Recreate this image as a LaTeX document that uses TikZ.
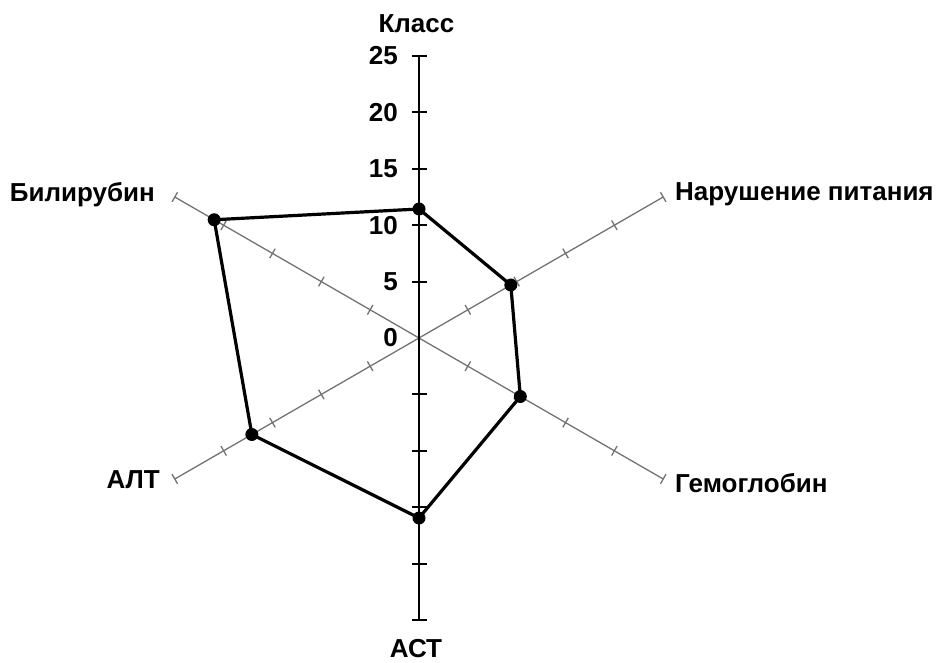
\documentclass[tikz,border=0pt]{standalone}
\usepackage{fontspec}
\setmainfont{Liberation Sans}
\begin{document}
\begin{tikzpicture}[x=1pt,y=1pt,
  lbl/.style={font=\bfseries\fontsize{26}{26}\selectfont, inner sep=0pt},
  ax/.style={draw=black!55, line width=1.3pt},
  vax/.style={draw=black, line width=1.9pt},
  data/.style={draw=black, line width=3.2pt, line join=round},
  dot/.style={circle, fill=black, inner sep=0pt, minimum size=13pt}]
\useasboundingbox (0,0) rectangle (941,662);
\coordinate (O) at (419,324);
\def\L{282}
% diagonal axes
\foreach \a/\n in {30/n,-30/g,210/alt,150/b}{
  \begin{scope}[shift={(O)},rotate=\a]
    \draw[ax] (0,0) -- (\L,0) coordinate (e\n);
    \foreach \k in {1,...,5}
      \draw[ax] ({\k*\L/5},-5.5) -- ({\k*\L/5},5.5);
  \end{scope}
}
% vertical axis
\begin{scope}[shift={(O)}]
  \draw[vax] (0,-\L) coordinate (east) -- (0,\L) coordinate (ekl);
  \foreach \k in {-5,...,-1,1,2,...,5}
    \draw[vax] (-7,{\k*\L/5}) -- (8,{\k*\L/5});
  \foreach \k in {0,...,5}
    \node[lbl,anchor=east] (t\k) at (-21,{\k*\L/5}) {\pgfmathparse{int(5*\k)}\pgfmathresult};
\end{scope}
% data
\begin{scope}[shift={(O)}]
  \coordinate (p1) at (90:129);
  \coordinate (p2) at (30:106);
  \coordinate (p3) at (-30:117);
  \coordinate (p4) at (-90:180);
  \coordinate (p5) at (210:193);
  \coordinate (p6) at (150:236.5);
\end{scope}
\draw[data] (p1) -- (p2) -- (p3) -- (p4) -- (p5) -- (p6) -- cycle;
\foreach \i in {1,...,6} \node[dot] (d\i) at (p\i) {};
% labels
\node[lbl,anchor=base] (lkl) at (416.5,629) {Класс};
\node[lbl,anchor=base west] (ln) at (675,461) {Нарушение питания};
\node[lbl,anchor=base west] (lg) at (675,170) {Гемоглобин};
\node[lbl,anchor=base] (last) at (416,5) {АСТ};
\node[lbl,anchor=base east] (lalt) at (160,173.7) {АЛТ};
\node[lbl,anchor=base east] (lb) at (155,460.3) {Билирубин};
\end{tikzpicture}
\end{document}
